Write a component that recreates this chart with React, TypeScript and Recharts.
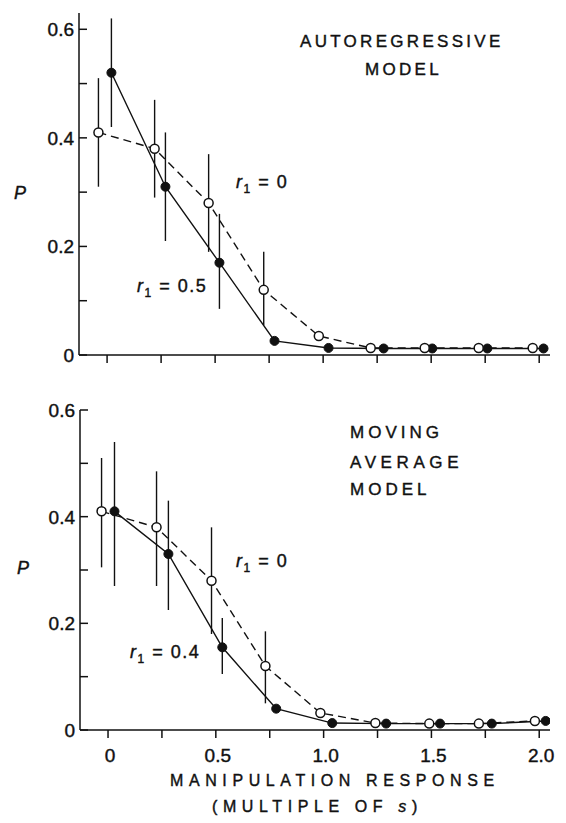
import React from 'react';
import { LineChart, Line, XAxis, YAxis, ErrorBar } from 'recharts';

// autoregressive panel
const arOpenX = [-0.04, 0.22, 0.47, 0.725, 0.98, 1.22, 1.47, 1.72, 1.97];
const arOpenP = [0.41, 0.38, 0.28, 0.12, 0.035, 0.013, 0.013, 0.013, 0.013];
const arOpenLo = [0.31, 0.29, 0.19, 0.055, null, null, null, null, null];
const arOpenHi = [0.51, 0.47, 0.37, 0.19, null, null, null, null, null];
const arFillX = [0.02, 0.27, 0.52, 0.775, 1.025, 1.28, 1.505, 1.76, 2.02];
const arFillP = [0.52, 0.31, 0.17, 0.026, 0.013, 0.012, 0.012, 0.012, 0.012];
const arFillLo = [0.42, 0.21, 0.085, null, null, null, null, null, null];
const arFillHi = [0.62, 0.41, 0.26, null, null, null, null, null, null];

// moving average panel
const maOpenX = [-0.03, 0.225, 0.48, 0.73, 0.985, 1.24, 1.49, 1.72, 1.98];
const maOpenP = [0.41, 0.38, 0.28, 0.12, 0.032, 0.013, 0.012, 0.012, 0.017];
const maOpenLo = [0.305, 0.27, 0.18, 0.05, null, null, null, null, null];
const maOpenHi = [0.51, 0.485, 0.38, 0.185, null, null, null, null, null];
const maFillX = [0.03, 0.28, 0.53, 0.78, 1.04, 1.29, 1.54, 1.78, 2.03];
const maFillP = [0.41, 0.33, 0.155, 0.04, 0.013, 0.012, 0.012, 0.012, 0.017];
const maFillLo = [0.27, 0.225, 0.105, null, null, null, null, null, null];
const maFillHi = [0.54, 0.43, 0.21, null, null, null, null, null, null];

const xTicks = [0, 0.25, 0.5, 0.75, 1, 1.25, 1.5, 1.75, 2];
const xLabels: Record<string, string> = { '0': '0', '0.5': '0.5', '1': '1.0', '1.5': '1.5', '2': '2.0' };
const yTicks = [0, 0.1, 0.2, 0.3, 0.4, 0.5, 0.6];
const yLabels: Record<string, string> = { '0': '0', '0.2': '0.2', '0.4': '0.4', '0.6': '0.6' };

const FONT = '"Liberation Sans", Arial, sans-serif';
const INK = '#111';

function build(xs: number[], ps: number[], lo: (number | null)[], hi: (number | null)[]) {
  return xs.map((x, i) => ({
    x,
    p: ps[i],
    err: lo[i] == null ? [0, 0] : [ps[i] - (lo[i] as number), (hi[i] as number) - ps[i]],
  }));
}

const YTick = ({ x, y, payload }: any) => {
  const label = yLabels[String(payload.value)];
  return (
    <g>
      <line x1={x} x2={x + 8} y1={y} y2={y} stroke={INK} strokeWidth={1.5} />
      {label && (
        <text x={x - 5} y={y} dy={7} textAnchor="end" fontSize={19} fontFamily={FONT} fill={INK} stroke={INK} strokeWidth={0.4}>
          {label}
        </text>
      )}
    </g>
  );
};

const makeXTick = (showLabels: boolean) => ({ x, y, payload }: any) => {
  const label = xLabels[String(payload.value)];
  return (
    <g>
      <line x1={x} x2={x} y1={y} y2={y + 8} stroke={INK} strokeWidth={1.5} />
      {showLabels && label && (
        <text x={x + 2} y={y + 32} textAnchor="middle" fontSize={19} fontFamily={FONT} fill={INK} stroke={INK} strokeWidth={0.4}>
          {label}
        </text>
      )}
    </g>
  );
};

function Panel({ open, fill, yMax, showLabels, height, margin }: any) {
  return (
    <LineChart width={566} height={height} margin={margin}>
      <XAxis
        dataKey="x"
        type="number"
        domain={[-0.13, 2.05]}
        ticks={xTicks}
        allowDataOverflow
        height={30}
        tickSize={0}
        tickMargin={0}
        tickLine={false}
        tick={makeXTick(showLabels)}
        axisLine={{ stroke: INK, strokeWidth: 1.5 }}
      />
      <YAxis
        type="number"
        domain={[0, yMax]}
        ticks={yTicks}
        allowDataOverflow
        width={40}
        tickSize={0}
        tickMargin={0}
        tickLine={false}
        tick={<YTick />}
        axisLine={{ stroke: INK, strokeWidth: 1.5 }}
      />
      <Line
        data={fill}
        dataKey="p"
        stroke={INK}
        strokeWidth={1.4}
        dot={{ r: 4.5, fill: INK, stroke: INK, strokeWidth: 1 }}
        isAnimationActive={false}
      >
        <ErrorBar dataKey="err" width={0} stroke={INK} strokeWidth={1.4} direction="y" />
      </Line>
      <Line
        data={open}
        dataKey="p"
        stroke={INK}
        strokeWidth={1.4}
        strokeDasharray="8 5"
        dot={{ r: 4.5, fill: '#fff', stroke: INK, strokeWidth: 1.5, strokeDasharray: '0' }}
        isAnimationActive={false}
      >
        <ErrorBar dataKey="err" width={0} stroke={INK} strokeWidth={1.4} direction="y" />
      </Line>
    </LineChart>
  );
}

const Note = ({ left, top, size = 17, spacing = 0, italic = false, children }: any) => (
  <div
    style={{
      position: 'absolute',
      left,
      top,
      fontSize: size,
      letterSpacing: spacing,
      fontStyle: italic ? 'italic' : 'normal',
      lineHeight: 1,
      whiteSpace: 'nowrap',
      color: INK,
      WebkitTextStroke: '0.4px #111',
    }}
  >
    {children}
  </div>
);

const R1 = ({ v }: { v: string }) => (
  <span style={{ letterSpacing: 1.5 }}>
    <i>r</i>
    <sub style={{ fontSize: 12 }}>1</sub> = {v}
  </span>
);

export default function App() {
  return (
    <div
      style={{
        position: 'absolute',
        left: 0,
        top: 0,
        width: 566,
        height: 823,
        background: '#fff',
        fontFamily: FONT,
      }}
    >
      <div style={{ position: 'absolute', left: 0, top: 0 }}>
        <Panel
          open={build(arOpenX, arOpenP, arOpenLo, arOpenHi)}
          fill={build(arFillX, arFillP, arFillLo, arFillHi)}
          yMax={0.63}
          showLabels={false}
          height={400}
          margin={{ top: 13, right: 16, bottom: 15, left: 39 }}
        />
      </div>
      <div style={{ position: 'absolute', left: 0, top: 400 }}>
        <Panel
          open={build(maOpenX, maOpenP, maOpenLo, maOpenHi)}
          fill={build(maFillX, maFillP, maFillLo, maFillHi)}
          yMax={0.6}
          showLabels
          height={423}
          margin={{ top: 10, right: 16, bottom: 63, left: 40 }}
        />
      </div>

      <Note left={300} top={33} spacing={3.3}>AUTOREGRESSIVE</Note>
      <Note left={365} top={61} spacing={3.3}>MODEL</Note>
      <Note left={350} top={424} spacing={4}>MOVING</Note>
      <Note left={350} top={454} spacing={4.6}>AVERAGE</Note>
      <Note left={350} top={481} spacing={4}>MODEL</Note>

      <Note left={14} top={184} size={18} italic>P</Note>
      <Note left={17} top={559} size={18} italic>P</Note>

      <Note left={236} top={173} size={18}><R1 v="0" /></Note>
      <Note left={137} top={277} size={18}><R1 v="0.5" /></Note>
      <Note left={236} top={552} size={18}><R1 v="0" /></Note>
      <Note left={130} top={643} size={18}><R1 v="0.4" /></Note>

      <Note left={170} top={773} size={16} spacing={5.6}>MANIPULATION RESPONSE</Note>
      <Note left={212} top={799} size={16} spacing={5.6}>
        (MULTIPLE OF <i>s</i>)
      </Note>
    </div>
  );
}
